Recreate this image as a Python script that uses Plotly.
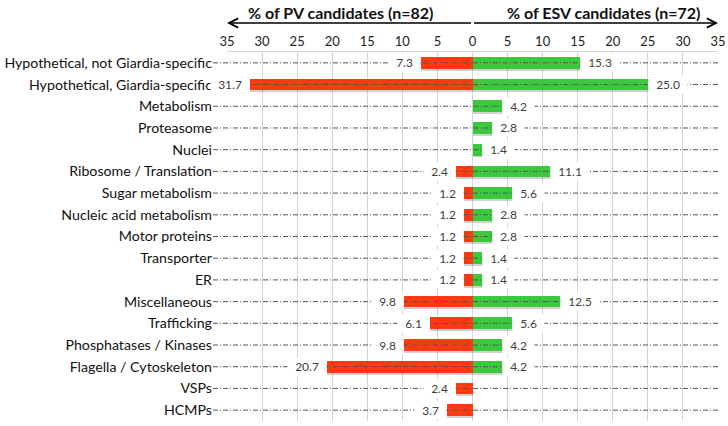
import plotly.graph_objects as go

categories = [
    "Hypothetical, not Giardia-specific",
    "Hypothetical, Giardia-specific",
    "Metabolism",
    "Proteasome",
    "Nuclei",
    "Ribosome / Translation",
    "Sugar metabolism",
    "Nucleic acid metabolism",
    "Motor proteins",
    "Transporter",
    "ER",
    "Miscellaneous",
    "Trafficking",
    "Phosphatases / Kinases",
    "Flagella / Cytoskeleton",
    "VSPs",
    "HCMPs",
]
pv_values = [7.3, 31.7, 0, 0, 0, 2.4, 1.2, 1.2, 1.2, 1.2, 1.2, 9.8, 6.1, 9.8, 20.7, 2.4, 3.7]
esv_values = [15.3, 25.0, 4.2, 2.8, 1.4, 11.1, 5.6, 2.8, 2.8, 1.4, 1.4, 12.5, 5.6, 4.2, 4.2, 0, 0]
tick_vals = [-35, -30, -25, -20, -15, -10, -5, 0, 5, 10, 15, 20, 25, 30, 35]
tick_text = [str(abs(v)) for v in tick_vals]
header_pv = "% of PV candidates (n=82)"
header_esv = "% of ESV candidates (n=72)"

RED = "#ff3a10"
GREEN = "#3cc83c"
FONT = "Lato"
BAR_W = 0.54

W, H = 728, 426
ML, MR, MT, MB = 227, 10, 52, 5
PW = W - ML - MR
PH = H - MT - MB

fig = go.Figure()

# soft shadows
fig.add_trace(go.Bar(
    y=categories, x=[-v for v in pv_values], orientation="h",
    width=BAR_W, offset=-BAR_W / 2 + 0.09,
    marker=dict(color="rgba(0,0,0,0.18)", line=dict(width=0)),
    hoverinfo="skip", showlegend=False,
))
fig.add_trace(go.Bar(
    y=categories, x=[v + 0.25 if v > 0 else 0 for v in esv_values], orientation="h",
    width=BAR_W, offset=-BAR_W / 2 + 0.09,
    marker=dict(color="rgba(0,0,0,0.18)", line=dict(width=0)),
    hoverinfo="skip", showlegend=False,
))
fig.add_trace(go.Bar(
    y=categories, x=[-v for v in pv_values], orientation="h",
    width=BAR_W, offset=-BAR_W / 2,
    marker=dict(color=RED, line=dict(width=0)), showlegend=False,
))
fig.add_trace(go.Bar(
    y=categories, x=esv_values, orientation="h",
    width=BAR_W, offset=-BAR_W / 2,
    marker=dict(color=GREEN, line=dict(width=0)), showlegend=False,
))

# dash-dot row lines from label to right edge
x_start = (213 - ML) / PW
for c in categories:
    fig.add_shape(type="line", xref="paper", yref="y", x0=x_start, x1=1, y0=c, y1=c,
                  line=dict(color="#555555", width=1, dash="5px,2px,1px,2px"), layer="above")

# value labels
pad = "\u00a0\u00a0"
for c, p, e in zip(categories, pv_values, esv_values):
    if e > 0:
        fig.add_annotation(x=e, y=c, xref="x", yref="y", text=pad + f"{e:.1f}" + pad,
                           showarrow=False, xanchor="left", yanchor="middle", bgcolor="white",
                           borderpad=1, font=dict(family=FONT, size=12, color="#404040"))
    if p > 0:
        fig.add_annotation(x=-p, y=c, xref="x", yref="y", text=pad + f"{p:.1f}" + pad,
                           showarrow=False, xanchor="right", yanchor="middle", bgcolor="white",
                           borderpad=1, font=dict(family=FONT, size=12, color="#404040"))

# headers and double arrow
fig.add_annotation(x=-18.8, y=1, yshift=MT - 12, xref="x", yref="paper", yanchor="middle",
                   text="<b>" + header_pv + "</b>",
                   showarrow=False, font=dict(family=FONT, size=16, color="#111111"))
fig.add_annotation(x=18.7, y=1, yshift=MT - 12, xref="x", yref="paper", yanchor="middle",
                   text="<b>" + header_esv + "</b>",
                   showarrow=False, font=dict(family=FONT, size=16, color="#111111"))
y_arrow = 1 + (MT - 23) / PH
fig.add_annotation(x=-35, y=y_arrow, xref="x", yref="paper", text="", showarrow=True,
                   ax=PW / 2, ay=0, arrowhead=5, arrowsize=1.2, arrowwidth=1.5, arrowcolor="#000000")
fig.add_annotation(x=35, y=y_arrow, xref="x", yref="paper", text="", showarrow=True,
                   ax=-PW / 2, ay=0, arrowhead=5, arrowsize=1.2, arrowwidth=1.5, arrowcolor="#000000")

fig.update_layout(
    width=W, height=H,
    margin=dict(l=ML, r=MR, t=MT, b=MB, autoexpand=False),
    paper_bgcolor="white", plot_bgcolor="white",
    barmode="overlay", bargap=0,
    font=dict(family=FONT),
    xaxis=dict(
        side="top", range=[-35, 35], tickvals=tick_vals, ticktext=tick_text,
        showgrid=True, gridcolor="#d4d4d4", gridwidth=1, zeroline=False,
        showline=True, linecolor="#d4d4d4", linewidth=1, ticks="",
        tickfont=dict(family=FONT, size=13, color="#222222"), fixedrange=True,
    ),
    yaxis=dict(
        categoryorder="array", categoryarray=categories, autorange="reversed",
        showgrid=False, zeroline=False, showline=False, ticks="",
        ticklabelstandoff=14,
        tickfont=dict(family=FONT, size=14.2, color="#111111"), fixedrange=True,
    ),
)

fig.write_html("out.html", config={"displayModeBar": False},
               post_script="document.body.style.margin='0';document.body.style.overflow='hidden';")
